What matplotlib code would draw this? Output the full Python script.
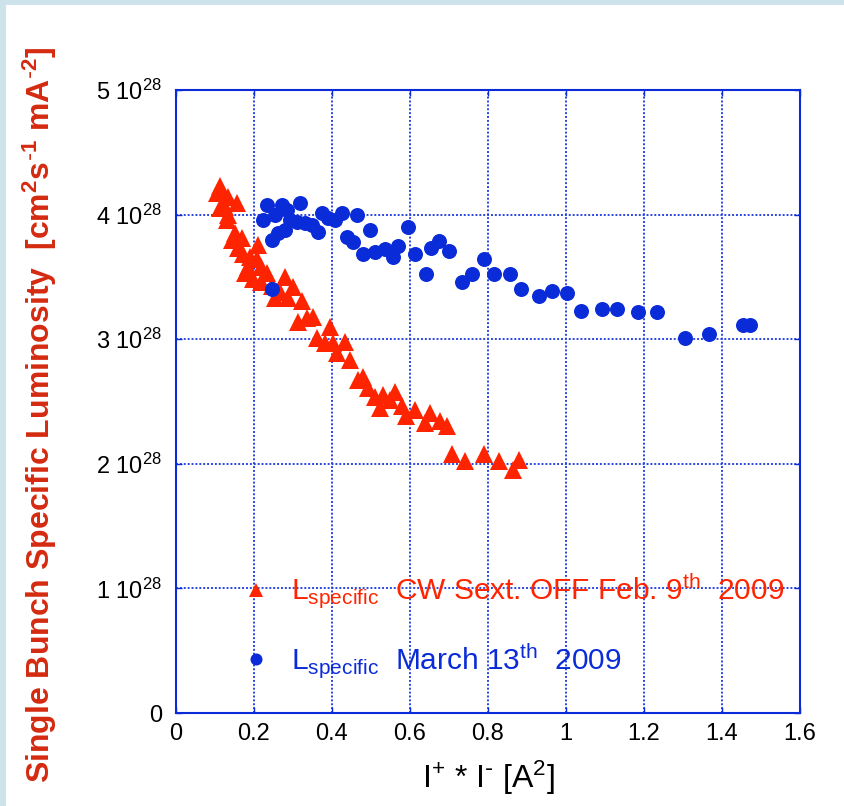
# Single bunch specific luminosity vs I+ * I-
# two runs: crab waist sextupoles off (Feb 9) and on (March 13)

import matplotlib.pyplot as plt
from matplotlib.patches import Rectangle

plt.rcParams['font.family'] = ['Liberation Sans', 'DejaVu Sans']
plt.rcParams['mathtext.default'] = 'regular'

# Feb. 9th 2009, CW sextupoles OFF  (x in A^2, y in 1e28 cm^-2 s^-1 mA^-2)
feb_x = [0.114, 0.113, 0.121, 0.104, 0.134, 0.156, 0.126, 0.113, 0.134, 0.130,
         0.151, 0.168, 0.143, 0.211, 0.160, 0.173, 0.190, 0.207, 0.185, 0.219,
         0.177, 0.233, 0.198, 0.279, 0.219, 0.245, 0.301, 0.267, 0.254, 0.288,
         0.322, 0.313, 0.335, 0.352, 0.395, 0.361, 0.382, 0.403, 0.433, 0.412,
         0.446, 0.480, 0.467, 0.493, 0.510, 0.532, 0.523, 0.549, 0.562, 0.579,
         0.591, 0.613, 0.651, 0.638, 0.677, 0.694, 0.707, 0.741, 0.791, 0.829,
         0.863, 0.879]
feb_y = [4.23, 4.20, 4.17, 4.17, 4.14, 4.09, 4.06, 4.05, 4.00, 3.96,
         3.85, 3.81, 3.80, 3.76, 3.73, 3.68, 3.66, 3.64, 3.58, 3.58,
         3.53, 3.53, 3.48, 3.50, 3.46, 3.43, 3.42, 3.38, 3.33, 3.33,
         3.31, 3.14, 3.17, 3.18, 3.10, 3.01, 2.97, 2.97, 2.98, 2.89,
         2.83, 2.70, 2.67, 2.61, 2.54, 2.55, 2.45, 2.51, 2.58, 2.46,
         2.38, 2.43, 2.41, 2.33, 2.34, 2.30, 2.08, 2.02, 2.08, 2.02,
         1.95, 2.03]

# March 13th 2009
mar_x = [0.233, 0.271, 0.318, 0.224, 0.254, 0.284, 0.292, 0.279, 0.262, 0.245,
         0.309, 0.331, 0.348, 0.365, 0.374, 0.391, 0.408, 0.425, 0.463, 0.438,
         0.455, 0.497, 0.480, 0.510, 0.536, 0.556, 0.568, 0.596, 0.613, 0.640,
         0.653, 0.675, 0.701, 0.733, 0.760, 0.791, 0.816, 0.856, 0.884, 0.930,
         0.963, 1.003, 1.038, 1.092, 1.132, 1.185, 1.234, 1.305, 1.367, 1.455,
         1.473, 0.245]
mar_y = [4.08, 4.08, 4.09, 3.96, 4.00, 4.04, 3.96, 3.88, 3.85, 3.80,
         3.94, 3.93, 3.92, 3.86, 4.01, 3.97, 3.96, 4.01, 4.00, 3.82,
         3.78, 3.88, 3.68, 3.70, 3.72, 3.66, 3.75, 3.90, 3.68, 3.52,
         3.73, 3.79, 3.71, 3.46, 3.52, 3.64, 3.52, 3.52, 3.40, 3.35,
         3.39, 3.37, 3.23, 3.245, 3.245, 3.22, 3.22, 3.01, 3.04, 3.11,
         3.11, 3.40]

x_ticks = [0, 0.2, 0.4, 0.6, 0.8, 1.0, 1.2, 1.4, 1.6]
x_ticklabels = ['0', '0.2', '0.4', '0.6', '0.8', '1', '1.2', '1.4', '1.6']
y_ticks = [0, 1, 2, 3, 4, 5]
y_ticklabels = ['0', '1 10$^{28}$', '2 10$^{28}$', '3 10$^{28}$', '4 10$^{28}$', '5 10$^{28}$']

red = '#ff2400'
blue = '#0a2bd8'
grid_blue = '#2a45e0'

fig = plt.figure(figsize=(8.45, 8.06), dpi=100)
fig.patch.set_facecolor('#cde2eb')
fig.add_artist(Rectangle((6 / 845, 0), 1, 1 - 5 / 806, transform=fig.transFigure,
                         facecolor='white', edgecolor='none', zorder=-10))

ax = fig.add_axes([176 / 845, 1 - 713 / 806, 624 / 845, 623 / 806])

l1, = ax.plot(feb_x, [v * 1e28 for v in feb_y], '^', color=red, ms=12.5, mew=0,
              label='L$_{specific}$  CW Sext. OFF Feb. 9$^{th}$  2009', zorder=3)
l2, = ax.plot(mar_x, [v * 1e28 for v in mar_y], 'o', color=blue, ms=10.8, mew=0,
              label='L$_{specific}$  March 13$^{th}$  2009', zorder=3)

ax.set_xlim(0, 1.6)
ax.set_ylim(0, 5e28)
ax.set_xticks(x_ticks)
ax.set_xticklabels(x_ticklabels)
ax.set_yticks([v * 1e28 for v in y_ticks])
ax.set_yticklabels(y_ticklabels)
ax.tick_params(axis='both', direction='in', length=4, width=1, color=blue,
               top=True, right=True, labelsize=17, labelcolor='black')
ax.tick_params(axis='y', pad=10)
ax.tick_params(axis='x', pad=7)

ax.grid(True, color=grid_blue, linestyle=(0, (1, 1)), linewidth=1.4)
for s in ax.spines.values():
    s.set_color(blue)
    s.set_linewidth(1.5)

ax.set_xlabel(r'I$^{+}$ * I$^{\text{-}}$ [A$^{2}$]', fontsize=23, labelpad=10)
fig.text(40 / 845, 0.485,
         r'Single Bunch Specific Luminosity  [cm$^{2}$s$^{\text{-}1}$ mA$^{\text{-}2}$]',
         rotation=90, ha='center', va='center', fontsize=23, fontweight='bold',
         color='#d42a10')

leg = ax.legend(handles=[l1, l2], loc='center left', bbox_to_anchor=(0.080, 0.139),
                frameon=False, fontsize=21.5, markerscale=0.8, handlelength=1.0,
                handletextpad=0.68, borderpad=0, labelspacing=1.0)
leg.get_texts()[0].set_color(red)
leg.get_texts()[1].set_color(blue)

plt.savefig('out.png', dpi=100)
